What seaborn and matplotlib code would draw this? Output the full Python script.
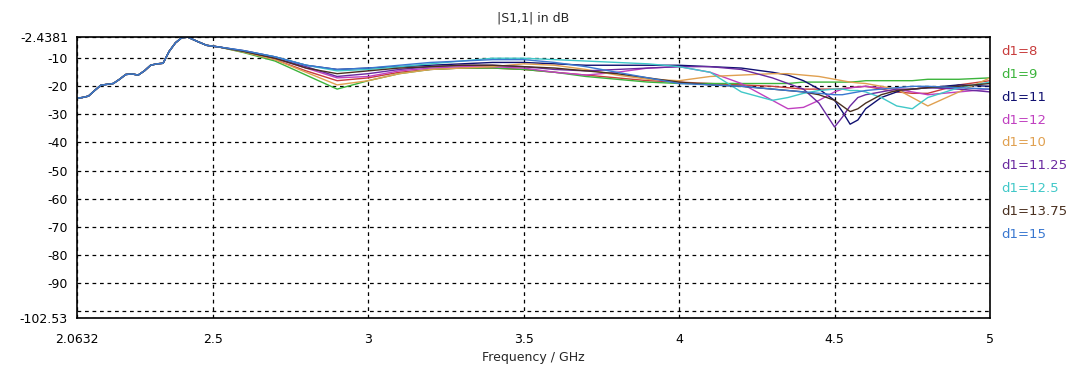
import pandas as pd
import seaborn as sns
import matplotlib.pyplot as plt

# shared low-frequency part (all curves overlap here)
freq_base = [2.0632, 2.08, 2.10, 2.12, 2.14, 2.18, 2.20, 2.22, 2.24, 2.26, 2.28,
             2.30, 2.32, 2.34, 2.36, 2.38, 2.40, 2.42, 2.45, 2.48, 2.52]
db_base = [-24.2, -24.0, -23.5, -21.5, -19.6, -19.0, -17.5, -15.8, -15.6, -16.0, -14.5,
           -12.5, -12.0, -11.8, -7.5, -4.5, -2.7, -2.5, -4.0, -5.4, -6.0]

freq_tail = [2.6, 2.7, 2.8, 2.9, 3.0, 3.1, 3.2, 3.3, 3.4, 3.5, 3.6, 3.7, 3.8, 3.9,
             4.0, 4.1, 4.2, 4.3, 4.35, 4.4, 4.45, 4.5, 4.525, 4.55, 4.575, 4.6,
             4.65, 4.7, 4.75, 4.8, 4.9, 5.0]

labels = ['d1=8', 'd1=9', 'd1=11', 'd1=12', 'd1=10', 'd1=11.25', 'd1=12.5', 'd1=13.75', 'd1=15']
colors = ['#c83c3c', '#3cb43c', '#101070', '#c040c0', '#e0a050', '#6a2aa0', '#40c8c8', '#4a3020', '#3a78d0']

d1_8 = [-7.8, -10.5, -14.5, -18, -17, -15, -14, -13.5, -13.5, -14, -15, -16, -17, -18, -18.5, -19, -19.5, -20,
        -20.5, -21, -21, -21, -20.8, -20.5, -20.2, -20, -21, -22, -22.5, -22.5, -19.5, -18]
d1_9 = [-8, -11, -16, -21, -18, -15.5, -14, -13.5, -13.5, -14, -15, -16.5, -17.5, -18.5, -19, -19, -19, -19,
        -19, -18.5, -18.5, -18.5, -18.5, -18.5, -18.3, -18, -18, -18, -18, -17.5, -17.5, -17]
d1_11 = [-7.3, -9.5, -12.5, -14, -13.5, -13, -12.5, -12, -11.5, -11.5, -12, -12.5, -12.5, -12.5, -12.5, -13, -13.5, -15,
         -16, -18, -21, -25, -29, -33.5, -32, -28, -24, -22, -21, -20.5, -19.5, -20]
d1_12 = [-7.6, -10, -13.5, -17, -16.5, -14.5, -13.5, -13, -13, -13.5, -15, -16, -15, -13.5, -13, -15, -19, -25,
         -28, -27.5, -25, -22, -21, -20.5, -20.3, -20, -20.5, -21, -22, -23, -22, -21]
d1_10 = [-7.8, -10.5, -15, -19.5, -18, -15.5, -14, -13.5, -13, -12, -12.5, -14, -16, -17.5, -18, -16.5, -16, -15.5,
         -15.5, -16, -16.5, -17.5, -18, -18.5, -18.8, -19, -20, -21, -24, -27, -22, -17]
d1_11_25 = [-7.5, -10, -13, -16.5, -15.5, -14, -13, -12.5, -12.5, -13, -14, -14.5, -14, -13.5, -13, -13, -14, -17,
            -19, -21, -26, -34.5, -31, -27, -24, -23, -22, -21, -21, -20.5, -21, -22]
d1_12_5 = [-7.5, -9.5, -12.5, -14.5, -14, -13, -12, -11, -10, -10, -10.5, -11, -11.5, -12, -13, -15, -22, -25,
           -24, -22.5, -21.5, -21, -21, -21.5, -21.5, -22, -24, -27, -28, -24, -20.5, -18.5]
d1_13_75 = [-7.6, -10, -13.5, -15.5, -14.5, -13.5, -13, -12.5, -12.5, -13, -13.5, -14.5, -15.5, -17, -18.5, -19.5, -20, -21,
            -21.5, -22, -23, -25, -27, -29, -28, -26, -23, -21.5, -21, -20.5, -20, -19]
d1_15 = [-7.3, -9.5, -12.5, -14, -13.5, -12.5, -11.5, -11, -10.5, -10.5, -11.5, -13, -15, -17, -19, -19.5, -20, -21,
         -21.5, -22, -22.5, -23, -23, -22.5, -22, -21.5, -21, -20.5, -20, -20, -20.5, -21]

series = [d1_8, d1_9, d1_11, d1_12, d1_10, d1_11_25, d1_12_5, d1_13_75, d1_15]

xticks = [2.0632, 2.5, 3, 3.5, 4, 4.5, 5]
xticklabels = ['2.0632', '2.5', '3', '3.5', '4', '4.5', '5']
yticks = [-2.4381, -10, -20, -30, -40, -50, -60, -70, -80, -90, -100, -102.53]
yticklabels = ['-2.4381', '-10', '-20', '-30', '-40', '-50', '-60', '-70', '-80', '-90', '', '-102.53']

rows = []
for lab, vals in zip(labels, series):
    for f, v in zip(freq_base + freq_tail, db_base + vals):
        rows.append({'freq': f, 'db': v, 'd1': lab})
df = pd.DataFrame(rows)

sns.set_style('white')
plt.rcParams['font.family'] = ['DejaVu Sans']

fig = plt.figure(figsize=(10.75, 3.68), dpi=100)
ax = fig.add_axes([77 / 1075, 1 - 318 / 368, (990 - 77) / 1075, (318 - 37) / 368])

sns.lineplot(data=df, x='freq', y='db', hue='d1', hue_order=labels, palette=colors,
             linewidth=1, estimator=None, sort=False, ax=ax)

ax.set_xlim(2.0632, 5)
ax.set_ylim(-102.53, -2.4381)
ax.set_xticks(xticks)
ax.set_xticklabels(xticklabels)
ax.set_yticks(yticks)
ax.set_yticklabels(yticklabels)
ax.tick_params(direction='inout', length=7, width=1, colors='black', labelsize=9, pad=3)
ax.tick_params(axis='x', pad=7)
ax.grid(True, color='black', linestyle=(0, (3, 3)), linewidth=0.9)
for s in ax.spines.values():
    s.set_color('black')
    s.set_linewidth(1.2)

ax.set_xlabel('Frequency / GHz', fontsize=9, labelpad=4)
ax.set_ylabel('')
ax.set_title('|S1,1| in dB', fontsize=9, pad=11)

handles = ax.get_lines()[:len(labels)]
ax.legend(handles, labels, loc='upper left', bbox_to_anchor=(1.012, 0.97),
          frameon=False, handlelength=0, handletextpad=0, labelcolor='linecolor',
          fontsize=9.5, labelspacing=0.74, borderpad=0, borderaxespad=0)

fig.savefig('out.png', dpi=100)
